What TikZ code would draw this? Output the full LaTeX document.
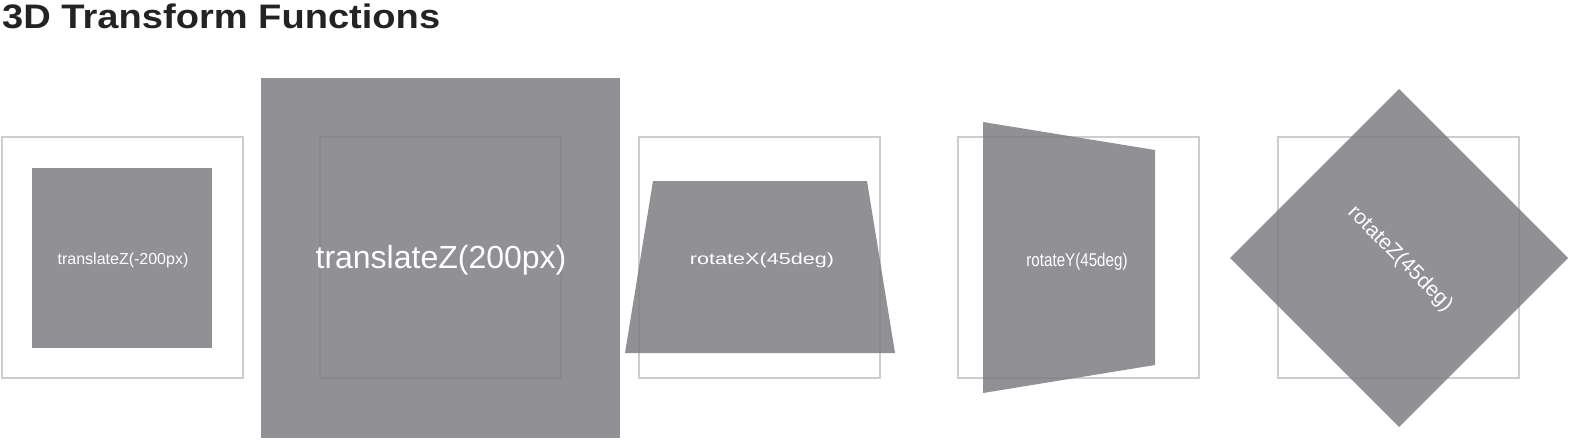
\documentclass[tikz,border=0pt]{standalone}
\usepackage{fontspec}
\setmainfont{Liberation Sans}
\definecolor{gris}{RGB}{124,125,130}
\definecolor{trait}{RGB}{205,205,205}
\definecolor{noir}{RGB}{35,35,35}

\begin{document}
\begin{tikzpicture}[x=1pt,y=-1pt,
  cadre/.style={draw=trait,line width=1.2pt},
  forme/.style={fill=gris,fill opacity=0.85},
  etiq/.style={text=white,inner sep=0pt}]
 \useasboundingbox (0,0) rectangle (1574,440);
 % titre
 \node[anchor=base west,inner sep=0pt,text=noir,xscale=1.12,
       font=\bfseries\fontsize{34}{40}\selectfont] (titre) at (2,28) {3D Transform Functions};
 % cadres
 \foreach \x in {2,320,639,958,1278}
   \draw[cadre] (\x,137) rectangle ++(241,241);
 % translateZ
 \fill[forme] (32,168) rectangle (212,348);
 \fill[forme] (261,78) rectangle (620,438);
 % rotateX
 \fill[forme] (653,181)--(867,181)--(895,353)--(625,353)--cycle;
 % rotateY
 \fill[forme] (983,122)--(1155,150)--(1155,365)--(983,393)--cycle;
 % rotateZ
 \fill[forme] (1399,89)--(1568,258)--(1399,427)--(1230,258)--cycle;
 % etiquettes
 \node[etiq,anchor=base,font=\fontsize{16}{19}\selectfont] (tzmoins) at (123,264) {translateZ(-200px)};
 \node[etiq,anchor=base,font=\fontsize{32}{38}\selectfont] (tzplus) at (441,268) {translateZ(200px)};
 \node[etiq,anchor=base,xscale=1.35,font=\fontsize{16}{19}\selectfont] (rx) at (762,264) {rotateX(45deg)};
 \node[etiq,anchor=base,xscale=0.82,font=\fontsize{18.5}{22}\selectfont] (ry) at (1077,266) {rotateY(45deg)};
 \node[etiq,rotate=-45,font=\fontsize{21}{25}\selectfont] (rz) at (1400,259) {rotateZ(45deg)};
\end{tikzpicture}
\end{document}
